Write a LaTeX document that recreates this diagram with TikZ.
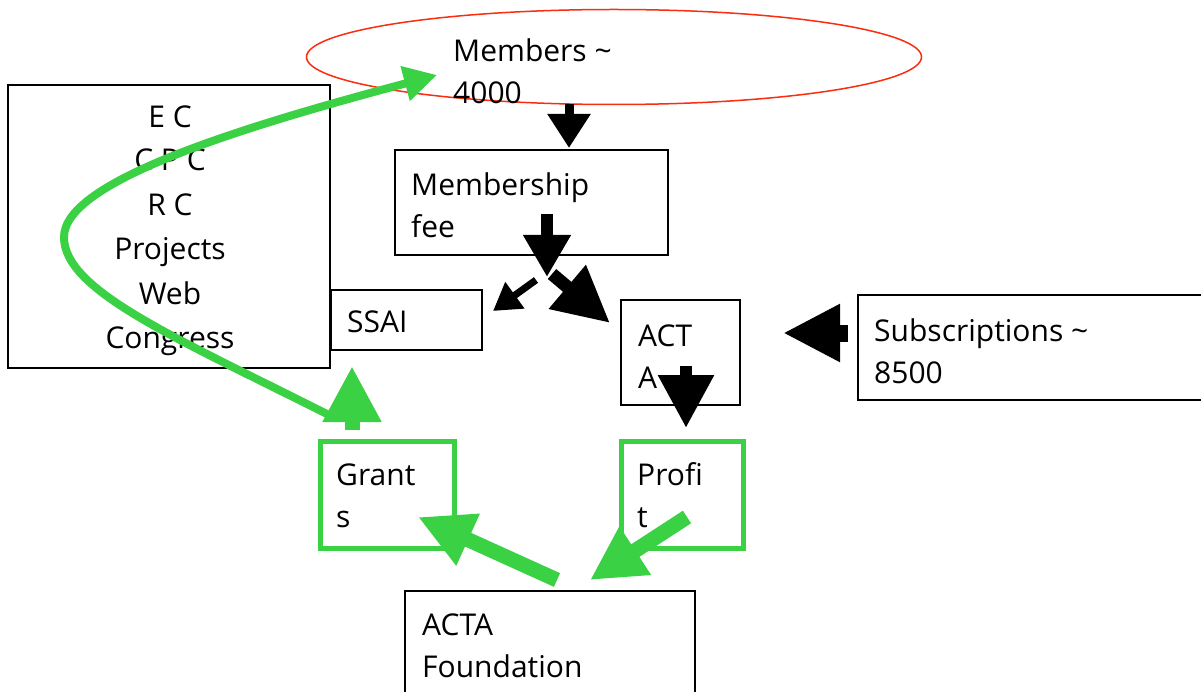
\documentclass[tikz,border=0pt]{standalone}
\usepackage{fontspec}
\setmainfont{Open Sans}
\usetikzlibrary{shapes.geometric,arrows.meta}
\definecolor{grn}{RGB}{59,209,68}
\definecolor{redl}{RGB}{250,45,15}
\begin{document}
\begin{tikzpicture}[x=1pt,y=-1pt,
  rect/.style={draw=black, line width=1.8pt, inner sep=0pt, outer sep=0pt, anchor=north west},
  grect/.style={draw=grn, line width=5pt, inner sep=0pt, outer sep=0pt, anchor=north west},
  txt/.style={anchor=base west, align=left, inner sep=0pt, font=\fontsize{30}{42}\selectfont},
  ctxt/.style={anchor=base, align=center, inner sep=0pt, font=\fontsize{30}{44}\selectfont},
  blk/.style={draw=black, fill=black},
  gblk/.style={draw=grn, fill=grn}]
\useasboundingbox (0,0) rectangle (1201,692);
\fill[white] (0,0) rectangle (1201,692);
% shapes
\node[draw=redl, line width=1.5pt, ellipse, minimum width=615pt, minimum height=95pt, inner sep=0pt] (members) at (614,57) {};
\node[rect, minimum width=322pt, minimum height=283pt] (ec) at (8,85) {};
\node[rect, minimum width=273pt, minimum height=105pt] (fee) at (395,150) {};
\node[rect, minimum width=151pt, minimum height=60pt] (ssai) at (331,290) {};
\node[rect, minimum width=119pt, minimum height=105pt] (acta) at (621,300) {};
\node[rect, minimum width=360pt, minimum height=105pt] (subs) at (858,295) {};
\node[grect, minimum width=134pt, minimum height=107pt] (grants) at (320,441) {};
\node[grect, minimum width=122pt, minimum height=107pt] (profit) at (621,441) {};
\node[rect, minimum width=290pt, minimum height=120pt] (found) at (405,591) {};
% texts (base anchor = baseline of the last line)
\node[txt] (memt) at (453,104) {Members \textasciitilde\\4000};
\node[ctxt] (ect1) at (170,128) {E C};
\node[ctxt] (ect2) at (170,171) {C P C};
\node[ctxt] (ect3) at (170,216) {R C};
\node[ctxt] (ect4) at (170,260) {Projects};
\node[ctxt] (ect5) at (170,305) {Web};
\node[ctxt] (ect6) at (170,348) {Congress};
\node[txt] (feet) at (411,238) {Membership\\fee};
\node[txt] (ssait) at (347,333) {SSAI};
\node[txt] (actat) at (638,388) {ACT\\A};
\node[txt] (subst) at (874,383) {Subscriptions \textasciitilde\\8500};
\node[txt] (grantst) at (336,527) {Grant\\s};
\node[txt] (profitt) at (637,527) {Profi\\t};
\node[txt] (foundt) at (422,677) {ACTA\\Foundation};
% arrow end points
\coordinate (a1s) at (569,104); \coordinate (a1e) at (569,148);
\coordinate (a2s) at (547,214); \coordinate (a2e) at (547,277);
\coordinate (a3s) at (536,280); \coordinate (a3e) at (493,311);
\coordinate (a4s) at (552,274); \coordinate (a4e) at (610,323);
\coordinate (a5s) at (686,366); \coordinate (a5e) at (686,428);
\coordinate (a6s) at (848,333); \coordinate (a6e) at (783,333);
\coordinate (g1s) at (352,430); \coordinate (g1e) at (352,366);
\coordinate (g2s) at (557,580); \coordinate (g2e) at (418,517);
\coordinate (g3s) at (687,517); \coordinate (g3e) at (590,580);
\coordinate (cs) at (333,417); \coordinate (cm) at (64,237); \coordinate (ce) at (437,75);
% black block arrows
\draw[line width=9pt, -{Triangle[length=34pt,width=41pt]}] (a1s) -- (a1e);
\draw[line width=12pt, -{Triangle[length=42pt,width=45pt]}] (a2s) -- (a2e);
\draw[line width=7pt, -{Triangle[length=27pt,width=31pt]}] (a3s) -- (a3e);
\draw[line width=13pt, -{Triangle[length=56pt,width=54pt]}] (a4s) -- (a4e);
\draw[line width=12pt, -{Triangle[length=53pt,width=53pt]}] (a5s) -- (a5e);
\draw[line width=17pt, -{Triangle[length=57pt,width=54pt]}] (a6s) -- (a6e);
% green block arrows
\draw[grn, line width=15pt, -{Triangle[length=56pt,width=55pt]}] (g1s) -- (g1e);
\draw[grn, line width=15pt, -{Triangle[length=55pt,width=53pt]}] (g2s) -- (g2e);
\draw[grn, line width=15pt, -{Triangle[length=54pt,width=54pt]}] (g3s) -- (g3e);
\draw[grn, line width=8pt, -{Triangle[length=33pt,width=34pt]}] (cs) .. controls (170,335) and (64,290) .. (cm) .. controls (64,180) and (250,125) .. (ce);
\end{tikzpicture}
\end{document}
